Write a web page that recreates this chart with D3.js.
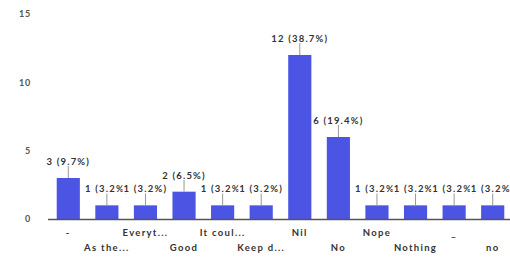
<!DOCTYPE html>
<html>
<head>
<meta charset="utf-8">
<script src="https://cdn.jsdelivr.net/npm/d3@7"></script>
<style>
html,body{margin:0;padding:0;background:#fff;}
svg{display:block;}
text{font-family:Lato,"Open Sans",sans-serif;font-weight:bold;}
</style>
</head>
<body>
<svg id="chart" width="510" height="258"></svg>
<script>
const categories = ["-", "As the...", "Everyt...", "Good", "It coul...", "Keep d...", "Nil", "No", "Nope", "Nothing", "_", "no"];
const values = [3, 1, 1, 2, 1, 1, 12, 6, 1, 1, 1, 1];
const yTicks = [0, 5, 10, 15];

const total = d3.sum(values);
const svg = d3.select("#chart");

const x = d3.scaleBand().domain(categories).range([49, 512]).paddingInner(0.4).paddingOuter(0.2);
const y = d3.scaleLinear().domain([0, 15]).range([219, 14]);

// y-axis labels
const yAxis = d3.axisLeft(y).tickValues(yTicks).tickSize(0).tickPadding(0);
const gy = svg.append("g").attr("transform", "translate(31,0)").call(yAxis);
gy.select(".domain").remove();
gy.selectAll("text").attr("fill", "#555").style("font-size", "9px").style("letter-spacing", "0.8px")
  .style("font-family", "Lato, sans-serif").style("font-weight", "bold");

// bars
svg.append("g").selectAll("rect").data(categories).join("rect")
  .attr("x", d => x(d))
  .attr("y", (d, i) => y(values[i]))
  .attr("width", x.bandwidth())
  .attr("height", (d, i) => y(0) - y(values[i]))
  .attr("fill", "#4c54e4");

// baseline axis
const xAxis = d3.axisBottom(x).tickSize(0).tickPadding(0).tickFormat(() => "");
const gx = svg.append("g").attr("transform", `translate(0,${y(0)})`).call(xAxis);
gx.select(".domain").attr("stroke", "#555").attr("stroke-width", 1.3).attr("d", "M48,0.5H512");

// x labels, staggered
svg.append("g").selectAll("text").data(categories).join("text")
  .attr("x", d => x(d) + x.bandwidth() / 2)
  .attr("y", (d, i) => i % 2 === 0 ? 236 : 251)
  .attr("text-anchor", "middle")
  .attr("fill", "#333")
  .style("font-size", "9.5px")
  .style("letter-spacing", "1.3px")
  .text(d => d);

// data labels with leader lines
const lg = svg.append("g");
categories.forEach((c, i) => {
  const cx = x(c) + x.bandwidth() / 2;
  const top = y(values[i]);
  lg.append("line").attr("x1", cx).attr("x2", cx).attr("y1", top - 12).attr("y2", top)
    .attr("stroke", "#999").attr("stroke-width", 1);
  const label = `${values[i]} (${(values[i] / total * 100).toFixed(1)}%)`;
  const g = lg.append("g");
  const t = g.append("text")
    .attr("x", cx).attr("y", top - 13)
    .attr("text-anchor", "middle")
    .attr("fill", "#333")
    .style("font-size", "9.5px")
    .style("letter-spacing", "1.2px")
    .text(label);
  const bb = t.node().getBBox();
  g.insert("rect", "text").attr("x", bb.x - 1).attr("y", bb.y + 1).attr("width", bb.width + 2).attr("height", bb.height - 2).attr("fill", "#fff");
});
</script>
</body>
</html>
